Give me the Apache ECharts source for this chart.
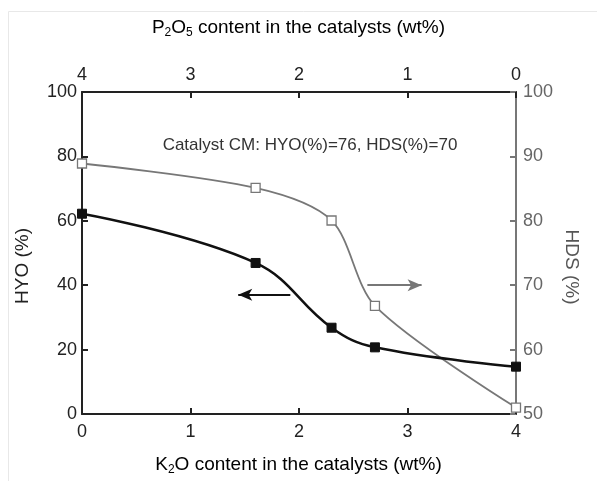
<!DOCTYPE html>
<html>
<head>
<meta charset="utf-8">
<script src="https://cdn.jsdelivr.net/npm/echarts@6/dist/echarts.min.js"></script>
<style>html,body{margin:0;padding:0;background:#fff}#c{width:597px;height:481px}</style>
</head>
<body>
<div id="c"></div>
<script>
// K2O content (wt%)
const k2o = [0, 1.6, 2.3, 2.7, 4];
// HYO (%) – left axis
const hyo = [62.2, 46.9, 26.8, 20.7, 14.7];
// HDS (%) – right axis
const hds = [88.9, 85.1, 80.05, 66.8, 51.0];
const bottomTicks = [0, 1, 2, 3, 4];
const annotation = 'Catalyst CM: HYO(%)=76, HDS(%)=70';
// arrow annotations (data coords)
const hyoArrow = [[1.92, 37], [1.44, 37]];
const hdsArrow = [[2.63, 70], [3.13, 70]];

const FONT = '"Liberation Sans", Arial, Helvetica, sans-serif';
const chart = echarts.init(document.getElementById('c'), null, {renderer: 'canvas'});
const sub = {a: {fontSize: 19, lineHeight: 22, fontFamily: FONT, color: '#222'},
             s: {fontSize: 12, lineHeight: 12, verticalAlign: 'bottom', fontFamily: FONT, color: '#222'}};
const option = {
  animation: false,
  backgroundColor: '#fff',
  textStyle: {fontFamily: FONT},
  grid: {left: 82, right: 81, top: 92, bottom: 67, containLabel: false},
  xAxis: [
    {type: 'value', position: 'bottom', min: 0, max: 4, interval: 1,
     axisLine: {show: true, lineStyle: {color: '#222', width: 2}},
     axisTick: {show: true, inside: true, length: 6, lineStyle: {color: '#222', width: 2}},
     axisLabel: {fontSize: 18, color: '#222', margin: 9, fontFamily: FONT, formatter: v => bottomTicks.includes(v) ? String(v) : ''},
     splitLine: {show: false}},
    {type: 'value', position: 'top', min: 0, max: 4, interval: 1, inverse: true,
     axisLine: {show: true, lineStyle: {color: '#222', width: 2}},
     axisTick: {show: true, inside: true, length: 6, lineStyle: {color: '#222', width: 2}},
     axisLabel: {fontSize: 18, color: '#222', margin: 8, fontFamily: FONT},
     splitLine: {show: false}}
  ],
  yAxis: [
    {type: 'value', position: 'left', min: 0, max: 100, interval: 20,
     axisLine: {show: true, lineStyle: {color: '#222', width: 2}},
     axisTick: {show: true, inside: true, length: 6, lineStyle: {color: '#222', width: 2}},
     axisLabel: {fontSize: 18, color: '#222', margin: 5, fontFamily: FONT},
     splitLine: {show: false}},
    {type: 'value', position: 'right', min: 50, max: 100, interval: 10,
     axisLine: {show: true, lineStyle: {color: '#777', width: 2}},
     axisTick: {show: true, inside: true, length: 6, lineStyle: {color: '#777', width: 2}},
     axisLabel: {fontSize: 18, color: '#666', margin: 7, fontFamily: FONT},
     splitLine: {show: false}}
  ],
  series: [
    {name: 'HYO', type: 'line', xAxisIndex: 0, yAxisIndex: 0,
     data: k2o.map((x, i) => [x, hyo[i]]),
     smooth: 0.4, symbol: 'rect', symbolSize: 9, showAllSymbol: true,
     lineStyle: {color: '#111', width: 2.5},
     itemStyle: {color: '#111', borderColor: '#111', borderWidth: 1},
     z: 4,
     markLine: {silent: true, symbol: ['none', 'arrow'], symbolSize: [9, 14],
       label: {show: false}, lineStyle: {color: '#111', width: 2, type: 'solid'},
       data: [[{coord: hyoArrow[0]}, {coord: hyoArrow[1]}]]}},
    {name: 'HDS', type: 'line', xAxisIndex: 0, yAxisIndex: 1,
     data: k2o.map((x, i) => [x, hds[i]]),
     smooth: 0.3, symbol: 'rect', symbolSize: 9, showAllSymbol: true,
     lineStyle: {color: '#777', width: 1.8},
     itemStyle: {color: '#fff', borderColor: '#777', borderWidth: 1.3},
     z: 3,
     markLine: {silent: true, symbol: ['none', 'arrow'], symbolSize: [9, 14],
       label: {show: false}, lineStyle: {color: '#777', width: 2, type: 'solid'},
       data: [[{coord: hdsArrow[0]}, {coord: hdsArrow[1]}]]}}
  ],
  graphic: [
    {type: 'rect', silent: true, shape: {x: 8.5, y: 11.5, width: 700, height: 700},
     style: {fill: 'none', stroke: '#e8e8e8', lineWidth: 1}, z: -1},
    {type: 'text', left: 'center', top: 18, silent: true,
     style: {text: '{a|P}{s|2}{a|O}{s|5}{a| content in the catalysts (wt%)}', rich: sub}},
    {type: 'text', left: 'center', top: 455, silent: true,
     style: {text: '{a|K}{s|2}{a|O content in the catalysts (wt%)}', rich: sub}},
    {type: 'text', x: 23, y: 266, rotation: Math.PI / 2, silent: true,
     style: {text: 'HYO (%)', fontSize: 19, fontFamily: FONT, fill: '#222', align: 'center', verticalAlign: 'middle'}},
    {type: 'text', x: 571, y: 267, rotation: -Math.PI / 2, silent: true,
     style: {text: 'HDS (%)', fontSize: 19, fontFamily: FONT, fill: '#555', align: 'center', verticalAlign: 'middle'}},
    {type: 'text', x: 310, y: 145, silent: true,
     style: {text: annotation, fontSize: 17, fontFamily: FONT, fill: '#333', align: 'center', verticalAlign: 'middle'}}
  ]
};
chart.setOption(option);
</script>
</body>
</html>
